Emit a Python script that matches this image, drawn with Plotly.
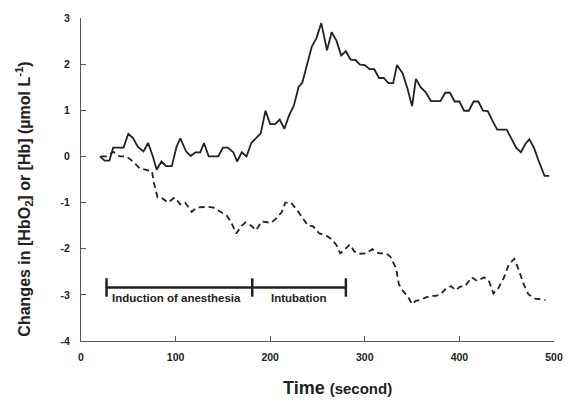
import plotly.graph_objects as go

# HbO2 (solid)
t_hbo2 = [20, 25, 30, 34, 45, 50, 55, 60, 66, 71, 76, 80, 85, 90, 96, 101, 105, 111, 116, 121,
          126, 130, 135, 145, 150, 155, 161, 165, 170, 175, 180, 185, 190, 195, 200, 205, 210, 215,
          220, 225, 230, 234, 239, 244, 249, 254, 260, 265, 270, 275, 280, 285, 290, 295, 300, 305,
          310, 315, 320, 325, 330, 334, 340, 345, 350, 354, 359, 364, 370, 380, 385, 390, 395, 400,
          405, 410, 415, 420, 425, 430, 435, 440, 450, 455, 460, 465, 470, 474, 479, 484, 490, 495]
v_hbo2 = [0, -0.09, -0.09, 0.19, 0.19, 0.49, 0.40, 0.21, 0.11, 0.29, 0, -0.29, -0.11, -0.21, -0.21,
          0.21, 0.39, 0.11, 0.01, 0.09, 0.09, 0.29, 0, 0, 0.19, 0.19, 0.09, -0.11, 0.09, 0, 0.29,
          0.40, 0.50, 0.99, 0.70, 0.70, 0.80, 0.60, 0.89, 1.10, 1.50, 1.60, 1.98, 2.38, 2.57, 2.89,
          2.30, 2.69, 2.51, 2.19, 2.28, 2.10, 2.09, 1.99, 1.98, 1.89, 1.89, 1.70, 1.70, 1.59, 1.59,
          1.98, 1.80, 1.48, 1.09, 1.68, 1.50, 1.40, 1.20, 1.20, 1.38, 1.38, 1.19, 1.19, 0.99, 0.99,
          1.19, 1.19, 0.99, 0.98, 0.77, 0.58, 0.58, 0.38, 0.19, 0.09, 0.28, 0.37, 0.18, -0.11,
          -0.42, -0.42]

# Hb (dashed)
t_hb = [21, 27, 34, 41, 48, 55, 62, 70, 75, 77, 81, 86, 92, 99, 105, 110, 117, 122, 129, 134,
        140, 147, 154, 159, 164, 170, 174, 180, 185, 191, 196, 201, 206, 212, 216, 222, 229, 235,
        240, 245, 252, 259, 265, 270, 274, 278, 284, 289, 294, 301, 308, 315, 322, 327, 333, 336,
        340, 345, 350, 354, 359, 364, 370, 375, 380, 385, 391, 396, 401, 406, 413, 419, 426, 431,
        436, 441, 447, 452, 458, 462, 468, 473, 480, 491]
v_hb = [0, 0, 0.1, 0, 0, -0.11, -0.26, -0.29, -0.32, -0.57, -0.89, -0.91, -1.0, -0.89, -1.04,
        -1.0, -1.20, -1.11, -1.09, -1.09, -1.11, -1.20, -1.28, -1.44, -1.67, -1.50, -1.43, -1.50,
        -1.60, -1.41, -1.43, -1.44, -1.35, -1.21, -1.0, -1.0, -1.18, -1.35, -1.50, -1.51, -1.67,
        -1.71, -1.80, -1.92, -2.10, -2.03, -1.91, -2.06, -2.11, -2.10, -2.01, -2.10, -2.10, -2.17,
        -2.42, -2.77, -2.91, -3.02, -3.20, -3.13, -3.11, -3.06, -3.02, -3.02, -2.99, -2.88, -2.81,
        -2.90, -2.82, -2.81, -2.62, -2.70, -2.62, -2.69, -2.97, -2.86, -2.63, -2.35, -2.22, -2.42,
        -2.77, -2.99, -3.08, -3.11]

# Phase bracket
phase_bounds = [27, 181, 280]
phase_level = -2.84
phase_tick_half = 0.2
phase_labels = ["Induction of anesthesia", "Intubation"]
phase_label_x = [30.5, 199]
phase_label_y = -3.07

x_ticks = [0, 100, 200, 300, 400, 500]
y_ticks = [3, 2, 1, 0, -1, -2, -3, -4]

INK = "#222222"
FONT = "Liberation Sans, Arial, sans-serif"

fig = go.Figure()
fig.add_trace(go.Scatter(x=t_hbo2, y=v_hbo2, mode="lines",
                         line=dict(color=INK, width=1.8), showlegend=False))
fig.add_trace(go.Scatter(x=t_hb, y=v_hb, mode="lines",
                         line=dict(color=INK, width=1.8, dash="6px,4px"), showlegend=False))

# bracket horizontal
fig.add_trace(go.Scatter(x=[phase_bounds[0], phase_bounds[-1]], y=[phase_level, phase_level],
                         mode="lines", line=dict(color=INK, width=2.5), showlegend=False))
for b in phase_bounds:
    fig.add_trace(go.Scatter(x=[b, b], y=[phase_level + phase_tick_half, phase_level - phase_tick_half],
                             mode="lines", line=dict(color=INK, width=2.5), showlegend=False))

for lx, lab in zip(phase_label_x, phase_labels):
    fig.add_annotation(x=lx, y=phase_label_y, text="<b>%s</b>" % lab, showarrow=False,
                       xanchor="left", yanchor="middle", font=dict(size=11.5, color=INK, family=FONT))

fig.add_annotation(xref="paper", yref="paper", x=-0.121, y=0.44, textangle=-90,
                   text="<b>Changes in [HbO<sub>2</sub>] or [Hb] (µmol L<sup>-1</sup>)</b>",
                   showarrow=False, xanchor="center", yanchor="middle",
                   font=dict(size=16, color=INK, family=FONT))
fig.add_annotation(xref="paper", yref="paper", x=0.542, y=-0.145,
                   text="<b>Time <span style='font-size:15px'>(second)</span></b>",
                   showarrow=False, xanchor="center", yanchor="middle",
                   font=dict(size=18, color=INK, family=FONT))

fig.update_layout(
    width=575, height=400,
    margin=dict(l=81, r=20, t=12, b=59),
    paper_bgcolor="white", plot_bgcolor="white",
    font=dict(family=FONT, color=INK),
    xaxis=dict(range=[0, 500], tickvals=x_ticks, ticktext=["<b>%d</b>" % v for v in x_ticks],
               ticks="inside", ticklen=5, tickcolor="#555", showline=True, linecolor="#555",
               linewidth=1, showgrid=False, zeroline=False, tickfont=dict(size=10.5, color=INK),
               ticklabelstandoff=6),
    yaxis=dict(range=[-4, 3], tickvals=y_ticks, ticktext=["<b>%d</b>" % v for v in y_ticks],
               ticks="inside", ticklen=5, tickcolor="#555", showline=True, linecolor="#555",
               linewidth=1, showgrid=False, zeroline=False, tickfont=dict(size=10.5, color=INK),
               ticklabelstandoff=8),
)

fig.write_html("out.html", config={"displayModeBar": False},
               post_script="document.body.style.margin='0';document.body.style.overflow='hidden';")
